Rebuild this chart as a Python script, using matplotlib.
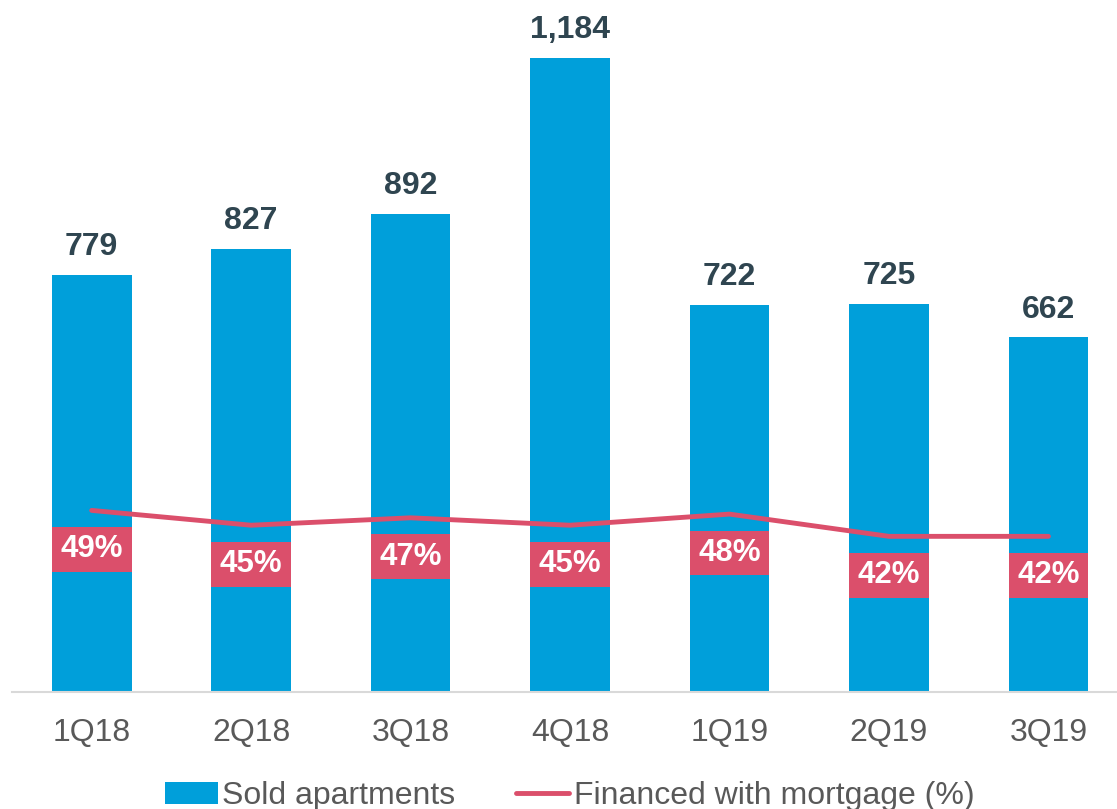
import matplotlib
matplotlib.use('Agg')
import matplotlib.pyplot as plt
import numpy as np

quarters = ['1Q18', '2Q18', '3Q18', '4Q18', '1Q19', '2Q19', '3Q19']
sold = [779, 827, 892, 1184, 722, 725, 662]
mortgage = [49, 45, 47, 45, 48, 42, 42]

bar_color = '#009FDA'
line_color = '#DB4F6B'

plt.rcParams['font.family'] = ['Liberation Sans', 'DejaVu Sans']

fig = plt.figure(figsize=(11.17, 8.09), dpi=100)
ax = fig.add_axes([0.0107, 0.1446, 0.9893, 0.843])
ax2 = ax.twinx()

x = np.arange(len(quarters))
bars = ax.bar(x, sold, width=0.5, color=bar_color, label='Sold apartments', zorder=2)
for xi, v in zip(x, sold):
    ax.text(xi, v + 24, f'{v:,}', ha='center', va='bottom', fontsize=23,
            fontweight='bold', color='#2F4550')

ax.set_xlim(-0.5, 6.43)
ax.set_ylim(0, 1273)
ax2.set_ylim(0, 184)

line, = ax2.plot(x, mortgage, color=line_color, lw=3.5, solid_capstyle='round',
                 label='Financed with mortgage (%)', zorder=3)

# label boxes below each point, same width as the bars
m = np.array(mortgage)
box_h = 12.1
box_c = m - 10.5
ax2.bar(x, box_h, bottom=box_c - box_h / 2, width=0.5, color=line_color, zorder=4)
for xi, v, c in zip(x, mortgage, box_c):
    ax2.text(xi, c, f'{v}%', ha='center', va='center', fontsize=22.5,
             fontweight='bold', color='white', zorder=5)

for a in (ax, ax2):
    for s in ['top', 'right', 'left']:
        a.spines[s].set_visible(False)
    a.set_yticks([])
ax2.spines['bottom'].set_visible(False)
ax.spines['bottom'].set_color('#D9D9D9')
ax.spines['bottom'].set_linewidth(1.5)

ax.set_xticks(x)
ax.set_xticklabels(quarters, fontsize=23, color='#595959')
ax.tick_params(axis='x', length=0, pad=19)

fig.legend(handles=[bars, line], loc='lower center', bbox_to_anchor=(0.51, -0.038),
           ncol=2, frameon=False, fontsize=23, labelcolor='#595959',
           handlelength=1.65, handletextpad=0.15, columnspacing=1.9)

fig.savefig('out.png', dpi=100)
